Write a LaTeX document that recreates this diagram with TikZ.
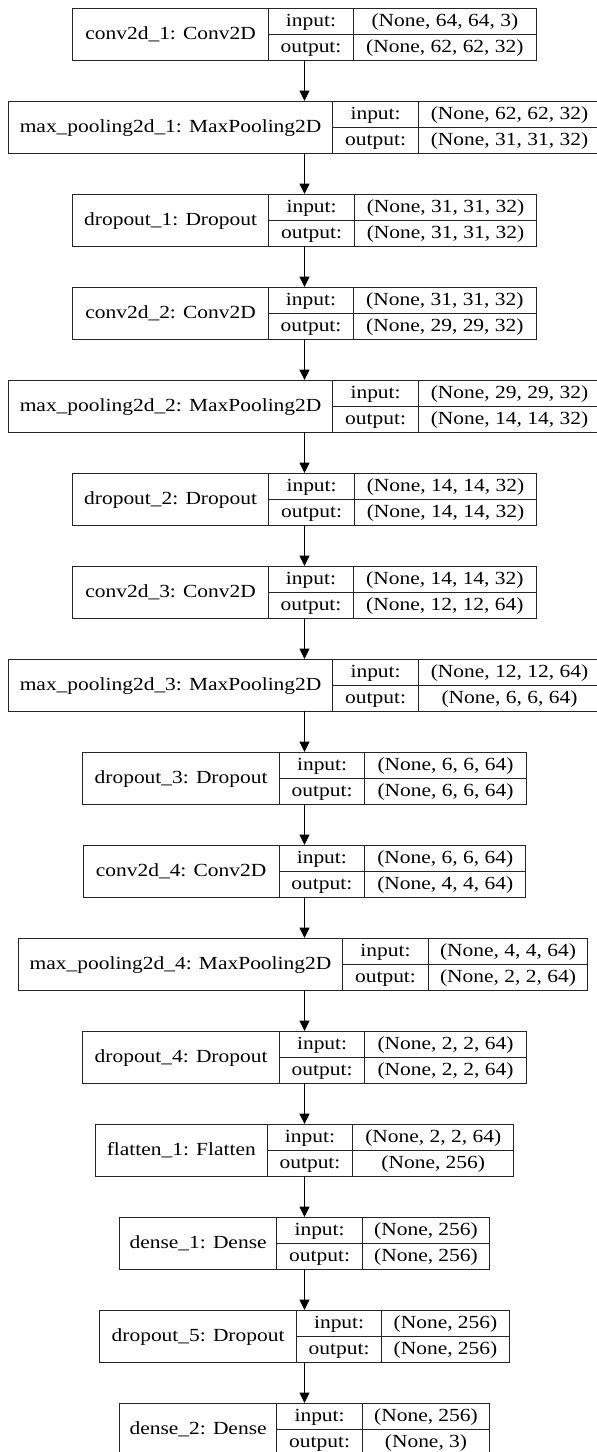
\documentclass[tikz,border=0pt]{standalone}
\usepackage{fontspec}
\setmainfont{Liberation Serif}[FakeStretch=1.16]
\usepackage{tikz}
\usetikzlibrary{arrows.meta}

\tikzset{
  rec/.style={inner sep=0pt,outer sep=0pt,minimum height=52pt},
  lab/.style={draw=black!85,line width=1pt,inner sep=0pt,outer sep=0pt,anchor=north west,
    minimum height=52pt,font=\fontsize{18.5pt}{22pt}\selectfont,text height=13.5pt,text depth=3.5pt},
  fld/.style={lab,minimum height=26pt},
  arr/.style={-{Triangle[length=10.5pt,width=10pt]},line width=1.1pt,black}
}

\begin{document}
\begin{tikzpicture}[x=1pt,y=-1pt]
  \useasboundingbox (0,0) rectangle (597,1452);
  \clip (0,0) rectangle (597,1452);
  % conv2d_1
  \node[rec,minimum width=463.1pt] (conv1) at (304.5,34) {};
  \node[lab,minimum width=195.3pt] (conv1-l) at (conv1.north west) {conv2d\_1: Conv2D};
  \node[fld,minimum width=85.5pt] (conv1-i) at (conv1-l.north east) {input:};
  \node[fld,minimum width=85.5pt] (conv1-o) at (conv1-i.south west) {output:};
  \node[fld,minimum width=182.3pt] (conv1-vi) at (conv1-i.north east) {(None, 64, 64, 3)};
  \node[fld,minimum width=182.3pt] (conv1-vo) at (conv1-o.north east) {(None, 62, 62, 32)};
  % max_pooling2d_1
  \node[rec,minimum width=592.3pt] (pool1) at (304.5,127) {};
  \node[lab,minimum width=324.5pt] (pool1-l) at (pool1.north west) {max\_pooling2d\_1: MaxPooling2D};
  \node[fld,minimum width=85.5pt] (pool1-i) at (pool1-l.north east) {input:};
  \node[fld,minimum width=85.5pt] (pool1-o) at (pool1-i.south west) {output:};
  \node[fld,minimum width=182.3pt] (pool1-vi) at (pool1-i.north east) {(None, 62, 62, 32)};
  \node[fld,minimum width=182.3pt] (pool1-vo) at (pool1-o.north east) {(None, 31, 31, 32)};
  % dropout_1
  \node[rec,minimum width=464.3pt] (drop1) at (304.5,220) {};
  \node[lab,minimum width=196.5pt] (drop1-l) at (drop1.north west) {dropout\_1: Dropout};
  \node[fld,minimum width=85.5pt] (drop1-i) at (drop1-l.north east) {input:};
  \node[fld,minimum width=85.5pt] (drop1-o) at (drop1-i.south west) {output:};
  \node[fld,minimum width=182.3pt] (drop1-vi) at (drop1-i.north east) {(None, 31, 31, 32)};
  \node[fld,minimum width=182.3pt] (drop1-vo) at (drop1-o.north east) {(None, 31, 31, 32)};
  % conv2d_2
  \node[rec,minimum width=463.1pt] (conv2) at (304.5,313) {};
  \node[lab,minimum width=195.3pt] (conv2-l) at (conv2.north west) {conv2d\_2: Conv2D};
  \node[fld,minimum width=85.5pt] (conv2-i) at (conv2-l.north east) {input:};
  \node[fld,minimum width=85.5pt] (conv2-o) at (conv2-i.south west) {output:};
  \node[fld,minimum width=182.3pt] (conv2-vi) at (conv2-i.north east) {(None, 31, 31, 32)};
  \node[fld,minimum width=182.3pt] (conv2-vo) at (conv2-o.north east) {(None, 29, 29, 32)};
  % max_pooling2d_2
  \node[rec,minimum width=592.3pt] (pool2) at (304.5,406) {};
  \node[lab,minimum width=324.5pt] (pool2-l) at (pool2.north west) {max\_pooling2d\_2: MaxPooling2D};
  \node[fld,minimum width=85.5pt] (pool2-i) at (pool2-l.north east) {input:};
  \node[fld,minimum width=85.5pt] (pool2-o) at (pool2-i.south west) {output:};
  \node[fld,minimum width=182.3pt] (pool2-vi) at (pool2-i.north east) {(None, 29, 29, 32)};
  \node[fld,minimum width=182.3pt] (pool2-vo) at (pool2-o.north east) {(None, 14, 14, 32)};
  % dropout_2
  \node[rec,minimum width=464.3pt] (drop2) at (304.5,499) {};
  \node[lab,minimum width=196.5pt] (drop2-l) at (drop2.north west) {dropout\_2: Dropout};
  \node[fld,minimum width=85.5pt] (drop2-i) at (drop2-l.north east) {input:};
  \node[fld,minimum width=85.5pt] (drop2-o) at (drop2-i.south west) {output:};
  \node[fld,minimum width=182.3pt] (drop2-vi) at (drop2-i.north east) {(None, 14, 14, 32)};
  \node[fld,minimum width=182.3pt] (drop2-vo) at (drop2-o.north east) {(None, 14, 14, 32)};
  % conv2d_3
  \node[rec,minimum width=463.1pt] (conv3) at (304.5,592) {};
  \node[lab,minimum width=195.3pt] (conv3-l) at (conv3.north west) {conv2d\_3: Conv2D};
  \node[fld,minimum width=85.5pt] (conv3-i) at (conv3-l.north east) {input:};
  \node[fld,minimum width=85.5pt] (conv3-o) at (conv3-i.south west) {output:};
  \node[fld,minimum width=182.3pt] (conv3-vi) at (conv3-i.north east) {(None, 14, 14, 32)};
  \node[fld,minimum width=182.3pt] (conv3-vo) at (conv3-o.north east) {(None, 12, 12, 64)};
  % max_pooling2d_3
  \node[rec,minimum width=592.3pt] (pool3) at (304.5,685) {};
  \node[lab,minimum width=324.5pt] (pool3-l) at (pool3.north west) {max\_pooling2d\_3: MaxPooling2D};
  \node[fld,minimum width=85.5pt] (pool3-i) at (pool3-l.north east) {input:};
  \node[fld,minimum width=85.5pt] (pool3-o) at (pool3-i.south west) {output:};
  \node[fld,minimum width=182.3pt] (pool3-vi) at (pool3-i.north east) {(None, 12, 12, 64)};
  \node[fld,minimum width=182.3pt] (pool3-vo) at (pool3-o.north east) {(None, 6, 6, 64)};
  % dropout_3
  \node[rec,minimum width=443.3pt] (drop3) at (304.5,778) {};
  \node[lab,minimum width=196.5pt] (drop3-l) at (drop3.north west) {dropout\_3: Dropout};
  \node[fld,minimum width=85.5pt] (drop3-i) at (drop3-l.north east) {input:};
  \node[fld,minimum width=85.5pt] (drop3-o) at (drop3-i.south west) {output:};
  \node[fld,minimum width=161.3pt] (drop3-vi) at (drop3-i.north east) {(None, 6, 6, 64)};
  \node[fld,minimum width=161.3pt] (drop3-vo) at (drop3-o.north east) {(None, 6, 6, 64)};
  % conv2d_4
  \node[rec,minimum width=442.8pt] (conv4) at (304.5,871) {};
  \node[lab,minimum width=196pt] (conv4-l) at (conv4.north west) {conv2d\_4: Conv2D};
  \node[fld,minimum width=85.5pt] (conv4-i) at (conv4-l.north east) {input:};
  \node[fld,minimum width=85.5pt] (conv4-o) at (conv4-i.south west) {output:};
  \node[fld,minimum width=161.3pt] (conv4-vi) at (conv4-i.north east) {(None, 6, 6, 64)};
  \node[fld,minimum width=161.3pt] (conv4-vo) at (conv4-o.north east) {(None, 4, 4, 64)};
  % max_pooling2d_4
  \node[rec,minimum width=569.5pt] (pool4) at (303,964) {};
  \node[lab,minimum width=324.5pt] (pool4-l) at (pool4.north west) {max\_pooling2d\_4: MaxPooling2D};
  \node[fld,minimum width=85.5pt] (pool4-i) at (pool4-l.north east) {input:};
  \node[fld,minimum width=85.5pt] (pool4-o) at (pool4-i.south west) {output:};
  \node[fld,minimum width=159.5pt] (pool4-vi) at (pool4-i.north east) {(None, 4, 4, 64)};
  \node[fld,minimum width=159.5pt] (pool4-vo) at (pool4-o.north east) {(None, 2, 2, 64)};
  % dropout_4
  \node[rec,minimum width=443.3pt] (drop4) at (304.5,1057) {};
  \node[lab,minimum width=196.5pt] (drop4-l) at (drop4.north west) {dropout\_4: Dropout};
  \node[fld,minimum width=85.5pt] (drop4-i) at (drop4-l.north east) {input:};
  \node[fld,minimum width=85.5pt] (drop4-o) at (drop4-i.south west) {output:};
  \node[fld,minimum width=161.3pt] (drop4-vi) at (drop4-i.north east) {(None, 2, 2, 64)};
  \node[fld,minimum width=161.3pt] (drop4-vo) at (drop4-o.north east) {(None, 2, 2, 64)};
  % flatten_1
  \node[rec,minimum width=418.5pt] (flat1) at (304.5,1150) {};
  \node[lab,minimum width=172pt] (flat1-l) at (flat1.north west) {flatten\_1: Flatten};
  \node[fld,minimum width=85.5pt] (flat1-i) at (flat1-l.north east) {input:};
  \node[fld,minimum width=85.5pt] (flat1-o) at (flat1-i.south west) {output:};
  \node[fld,minimum width=161pt] (flat1-vi) at (flat1-i.north east) {(None, 2, 2, 64)};
  \node[fld,minimum width=161pt] (flat1-vo) at (flat1-o.north east) {(None, 256)};
  % dense_1
  \node[rec,minimum width=370.3pt] (dense1) at (304.5,1243) {};
  \node[lab,minimum width=157.5pt] (dense1-l) at (dense1.north west) {dense\_1: Dense};
  \node[fld,minimum width=85.5pt] (dense1-i) at (dense1-l.north east) {input:};
  \node[fld,minimum width=85.5pt] (dense1-o) at (dense1-i.south west) {output:};
  \node[fld,minimum width=127.3pt] (dense1-vi) at (dense1-i.north east) {(None, 256)};
  \node[fld,minimum width=127.3pt] (dense1-vo) at (dense1-o.north east) {(None, 256)};
  % dropout_5
  \node[rec,minimum width=409.3pt] (drop5) at (304.5,1336) {};
  \node[lab,minimum width=196.5pt] (drop5-l) at (drop5.north west) {dropout\_5: Dropout};
  \node[fld,minimum width=85.5pt] (drop5-i) at (drop5-l.north east) {input:};
  \node[fld,minimum width=85.5pt] (drop5-o) at (drop5-i.south west) {output:};
  \node[fld,minimum width=127.3pt] (drop5-vi) at (drop5-i.north east) {(None, 256)};
  \node[fld,minimum width=127.3pt] (drop5-vo) at (drop5-o.north east) {(None, 256)};
  % dense_2
  \node[rec,minimum width=370.3pt] (dense2) at (304.5,1429) {};
  \node[lab,minimum width=157.5pt] (dense2-l) at (dense2.north west) {dense\_2: Dense};
  \node[fld,minimum width=85.5pt] (dense2-i) at (dense2-l.north east) {input:};
  \node[fld,minimum width=85.5pt] (dense2-o) at (dense2-i.south west) {output:};
  \node[fld,minimum width=127.3pt] (dense2-vi) at (dense2-i.north east) {(None, 256)};
  \node[fld,minimum width=127.3pt] (dense2-vo) at (dense2-o.north east) {(None, 3)};
  % edges
  \draw[arr] (conv1) -- (pool1);
  \draw[arr] (pool1) -- (drop1);
  \draw[arr] (drop1) -- (conv2);
  \draw[arr] (conv2) -- (pool2);
  \draw[arr] (pool2) -- (drop2);
  \draw[arr] (drop2) -- (conv3);
  \draw[arr] (conv3) -- (pool3);
  \draw[arr] (pool3) -- (drop3);
  \draw[arr] (drop3) -- (conv4);
  \draw[arr] (conv4) -- (conv4 |- pool4.north);
  \draw[arr] (pool4.south -| drop4) -- (drop4);
  \draw[arr] (drop4) -- (flat1);
  \draw[arr] (flat1) -- (dense1);
  \draw[arr] (dense1) -- (drop5);
  \draw[arr] (drop5) -- (dense2);
\end{tikzpicture}
\end{document}
